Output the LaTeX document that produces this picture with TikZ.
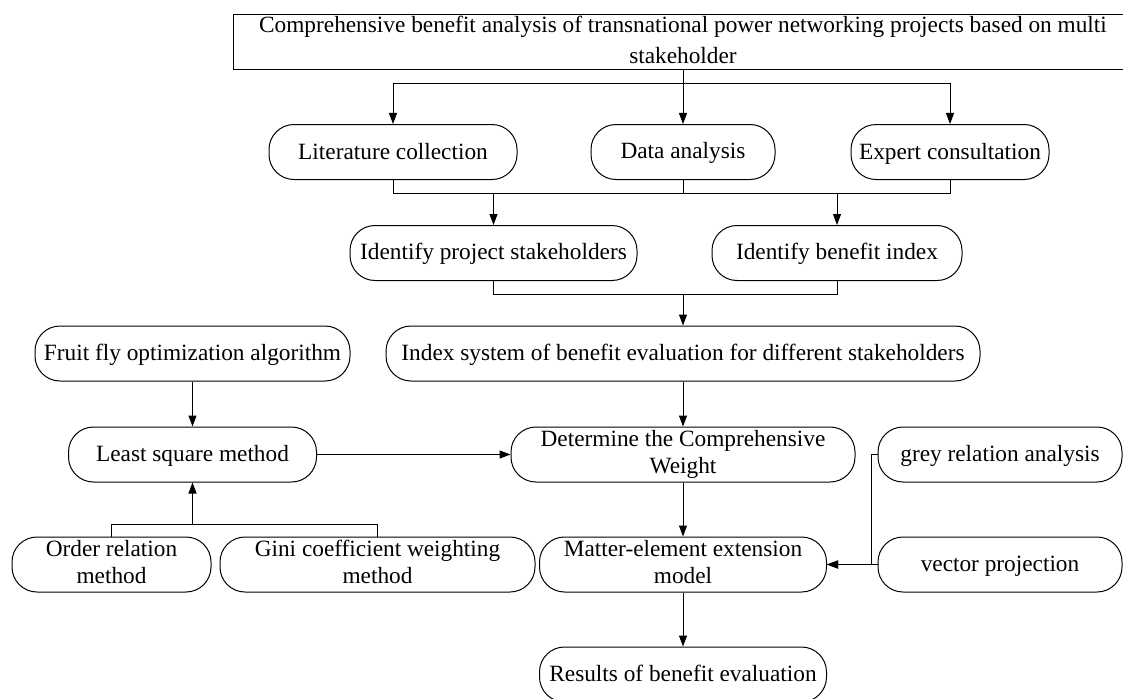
\documentclass[tikz,border=0pt]{standalone}
\usepackage{fontspec}
\setmainfont{Liberation Serif}
\usetikzlibrary{arrows.meta}
\newcommand{\boxstrut}{\rule[-5pt]{0pt}{24pt}}

\begin{document}
\begin{tikzpicture}[
  every node/.style={font=\fontsize{23.3pt}{27pt}\selectfont, inner sep=0pt, align=center,
                     execute at begin node=\boxstrut, execute at end node=\boxstrut},
  stadium/.style={draw, line width=1pt, rounded corners=25pt, minimum height=55pt},
  arr/.style={line width=1pt, -{Triangle[length=11pt, width=8pt]}},
  link/.style={line width=1pt}
]
\useasboundingbox (0,0) rectangle (1123pt, -698pt); % adjust bounding box
\node [draw, line width=1pt, minimum width=900pt, minimum height=55pt,
       font=\fontsize{23.3pt}{31pt}\selectfont] (top) at (683pt, -42.5pt)
  {Comprehensive benefit analysis of transnational power networking projects based on multi\\stakeholder};
\node [stadium, minimum width=248pt] (lit)    at (393pt, -152pt) {Literature collection};
\node [stadium, minimum width=184pt] (data)   at (683pt, -152pt) {Data analysis};
\node [stadium, minimum width=198pt] (expert) at (950pt, -152pt) {Expert consultation};
\node [stadium, minimum width=287pt] (stake)  at (493.5pt, -253pt) {Identify project stakeholders};
\node [stadium, minimum width=250pt] (bindex) at (837pt, -253pt) {Identify benefit index};
\node [stadium, minimum width=315pt] (fruit)  at (192.5pt, -353.5pt) {Fruit fly optimization algorithm};
\node [stadium, minimum width=594pt] (index)  at (683pt, -353.5pt) {Index system of benefit evaluation for different stakeholders};
\node [stadium, minimum width=248pt] (least)  at (192.5pt, -454.5pt) {Least square method};
\node [stadium, minimum width=344pt] (weight) at (683pt, -454.5pt) {Determine the Comprehensive\\Weight};
\node [stadium, minimum width=244pt] (grey)   at (1000pt, -454.5pt) {grey relation analysis};
\node [stadium, minimum width=199pt] (order)  at (111.5pt, -564.5pt) {Order relation\\method};
\node [stadium, minimum width=315pt] (gini)   at (377.5pt, -564.5pt) {Gini coefficient weighting\\method};
\node [stadium, minimum width=287pt] (matter) at (683pt, -564.5pt) {Matter-element extension\\model};
\node [stadium, minimum width=244pt] (vector) at (1000pt, -564.5pt) {vector projection};
\node [stadium, minimum width=287pt] (result) at (683pt, -674.5pt) {Results of benefit evaluation};
% joints of the bars
\coordinate (j1) at (0, -193pt);
\coordinate (j2) at (0, -294pt);
\coordinate (j3) at (0, -524pt);
\draw [arr] (top.south) -- ++(0, -13pt) -| (lit.north);
\draw [arr] (top.south) -- ++(0, -13pt) -| (expert.north);
\draw [arr] (top) -- (data);
\draw [link] (lit.south) |- (j1 -| expert) -- (expert.south);
\draw [link] (data.south) -- (j1 -| data);
\draw [arr] (j1 -| stake) -- (stake);
\draw [arr] (j1 -| bindex) -- (bindex);
\draw [link] (stake.south) |- (j2 -| bindex) -- (bindex.south);
\draw [arr] (j2 -| index) -- (index);
\draw [arr] (index) -- (weight);
\draw [arr] (weight) -- (matter);
\draw [arr] (matter) -- (result);
\draw [arr] (fruit) -- (least);
\draw [arr] (least) -- (weight);
\draw [link] (order.north) |- (j3 -| gini) -- (gini.north);
\draw [arr] (j3 -| least) -- (least);
\draw [arr] (grey.west) -- ++(-6pt, 0) |- (matter.east);
\draw [arr] (vector) -- (matter);
\end{tikzpicture}
\end{document}
